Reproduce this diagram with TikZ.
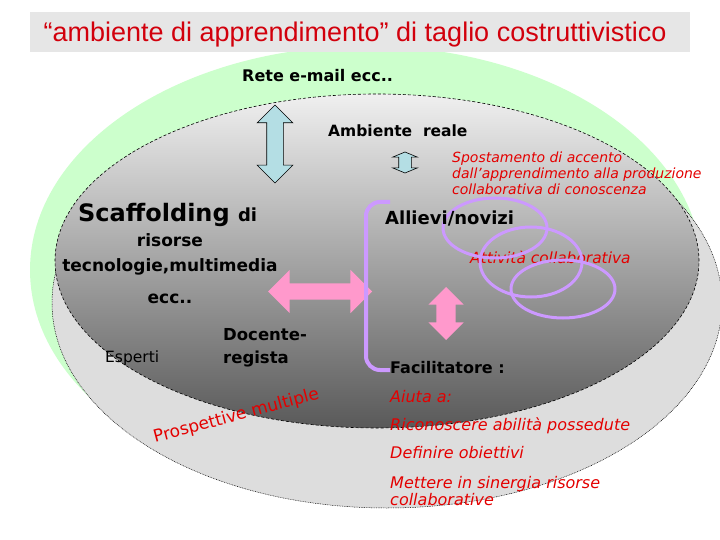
\documentclass[tikz,border=0pt]{standalone}
\usepackage{fontspec}
\setmainfont{DejaVu Sans}
\newfontfamily\titlefont{Liberation Sans}
\usetikzlibrary{shapes.arrows}

\definecolor{bargray}{RGB}{230,230,230}
\definecolor{palegreen}{RGB}{204,255,204}
\definecolor{outergray}{RGB}{221,221,221}
\definecolor{txtred}{RGB}{228,0,0}
\definecolor{titlered}{RGB}{210,0,12}
\definecolor{arrblue}{RGB}{180,222,228}
\definecolor{arrpink}{RGB}{255,153,204}
\definecolor{lavender}{RGB}{204,153,255}

\tikzset{
  lbl/.style={inner sep=0, font=\bfseries\fontsize{#1}{#1}\selectfont},
  redtxt/.style={inner sep=0, text=txtred, font=\itshape\fontsize{#1}{#1}\selectfont},
  bluearrow/.style={double arrow, draw=black, line width=0.6pt, fill=arrblue, inner xsep=0, rotate=90},
  pinkarrow/.style={double arrow, fill=arrpink, inner xsep=0},
  ring/.style={draw=lavender, line width=3pt},
}

\begin{document}
\begin{tikzpicture}[x=1pt,y=-1pt]
  \useasboundingbox (0,0) rectangle (720,540);
  \fill[white] (0,0) rectangle (720,540);

  \fill[palegreen] (366,270) ellipse [x radius=336pt, y radius=224pt];
  \filldraw[fill=outergray, draw=black, line width=0.5pt, dash pattern=on 0.8pt off 0.9pt]
    (387,303) ellipse [x radius=335pt, y radius=205pt];
  \shade[top color=gray!12, bottom color=black!65!white, draw=black, line width=0.6pt, dash pattern=on 3pt off 2pt]
    (377,261) ellipse [x radius=322pt, y radius=167pt];

  \fill[bargray] (30,12) rectangle (690,52);
  \node[anchor=base, inner sep=0, text=titlered, font=\titlefont\fontsize{27}{27}\selectfont] (title) at (355,42)
    {“ambiente di apprendimento” di taglio costruttivistico};

  \node[lbl=16, anchor=base west] (rete) at (242,82) {Rete e-mail ecc..};
  \node[lbl=15.5, anchor=base west] (reale) at (328,137) {Ambiente\ \ reale};
  \node[bluearrow, inner ysep=8pt, minimum height=78pt, double arrow head extend=9.5pt] (bigarrow) at (275,144) {};
  \node[bluearrow, inner ysep=6pt, minimum height=21pt, double arrow head extend=6pt, double arrow tip angle=135] (smallarrow) at (405,162.5) {};

  \node[redtxt=14, anchor=base west, align=left] (spost) at (452,195)
    {Spostamento di accento\\[2pt]dall’apprendimento alla produzione\\[2pt]collaborativa di conoscenza};

  \node[lbl=24, anchor=base west] (scaff) at (78,222) {Scaffolding \fontsize{18}{18}\selectfont di};
  \node[lbl=17, anchor=base] (risorse) at (170,247) {risorse};
  \node[lbl=17, anchor=base] (tecno) at (170,271) {tecnologie,multimedia};
  \node[lbl=17, anchor=base] (ecc) at (170,303) {ecc..};

  \node[pinkarrow, inner ysep=8pt, minimum height=104pt, double arrow head extend=13.5pt] (harrow) at (320,291.5) {};
  \node[pinkarrow, inner ysep=9.5pt, rotate=90, minimum height=53pt, double arrow head extend=8pt] (varrow) at (446,313.5) {};

  \draw[lavender, line width=4pt, rounded corners=14pt] (390,202) -- (366,202) -- (366,370) -- (390,370);

  \node[lbl=16.5, anchor=base west, align=left] (docente) at (223,363) {Docente-\\[6.5pt]regista};
  \node[inner sep=0, anchor=base west, font=\fontsize{15.5}{15.5}\selectfont] (esperti) at (105,362) {Esperti};
  \node[inner sep=0, anchor=base west, rotate=15, text=txtred, font=\fontsize{17}{17}\selectfont] (prosp) at (155,443) {Prospettive multiple};

  \node[redtxt=15.4, anchor=base west] (attiv) at (470,263) {Attività collaborativa};
  \draw[ring] (495,228) ellipse [x radius=52pt, y radius=30pt];
  \draw[ring] (531,262) ellipse [x radius=51pt, y radius=35pt];
  \draw[ring] (563,289) ellipse [x radius=52pt, y radius=29pt];
  \node[lbl=18, anchor=base west] (allievi) at (385,225) {Allievi/novizi};

  \node[lbl=16, anchor=base west] (facil) at (390,373) {Facilitatore :};
  \node[redtxt=16, anchor=base west] (aiuta) at (390,402) {Aiuta a:};
  \node[redtxt=16, anchor=base west] (ricon) at (390,430) {Riconoscere abilità possedute};
  \node[redtxt=16, anchor=base west] (defin) at (390,458) {Definire obiettivi};
  \node[redtxt=16, anchor=base west, align=left] (mett) at (390,505) {Mettere in sinergia risorse\\[1pt]collaborative};
\end{tikzpicture}
\end{document}
